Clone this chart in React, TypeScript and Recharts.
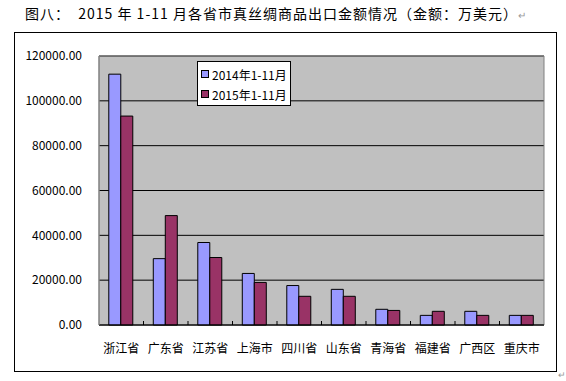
import React from "react"
import { BarChart, Bar, XAxis, YAxis, CartesianGrid, Legend, ReferenceArea } from "recharts"

const provinces = ["浙江省", "广东省", "江苏省", "上海市", "四川省", "山东省", "青海省", "福建省", "广西区", "重庆市"]
const export2014 = [111900, 29600, 36800, 23000, 17600, 15900, 7000, 4300, 6100, 4300]
const export2015 = [93200, 48800, 30100, 19000, 12800, 12800, 6500, 6100, 4300, 4300]
const yTicks = [0, 20000, 40000, 60000, 80000, 100000, 120000]

const data = provinces.map((name, i) => ({ name, y2014: export2014[i], y2015: export2015[i] }))

const cjk = '"Noto Sans CJK SC", "Noto Sans", sans-serif'
const labelGap = 19

// category label plus the small Excel-style tick at the left edge of the band
function ProvinceTick(props: any) {
  const { x, y, payload, index } = props
  const half = payload && payload.offset ? payload.offset : 0
  const axisY = y - labelGap
  return (
    <g>
      {index > 0 && <line x1={x - half} x2={x - half} y1={axisY - 4} y2={axisY} stroke="#000" />}
      <text x={x} y={y} dy="0.71em" textAnchor="middle" fill="#000" fontSize={12} fontFamily={cjk}>
        {payload.value}
      </text>
    </g>
  )
}

function LegendBox(props: any) {
  const items = props.payload || []
  return (
    <div style={{ border: "1px solid #000", background: "#fff", boxSizing: "border-box", width: 94, height: 45, padding: "2px 0 0 3px" }}>
      {items.map((it: any) => (
        <div key={it.value} style={{ display: "flex", alignItems: "center", height: 20, fontFamily: cjk, fontSize: 12, color: "#000", whiteSpace: "nowrap" }}>
          <span style={{ width: 6, height: 6, border: "1px solid #000", background: it.color, marginRight: 3, flex: "none" }} />
          {it.value}
        </div>
      ))}
    </div>
  )
}

export default function App() {
  return (
    <div style={{ position: "absolute", left: 0, top: 0, width: 566, height: 381, background: "#fff" }}>
      <div style={{ position: "absolute", left: 25, top: 3, lineHeight: "20px", fontFamily: cjk, fontSize: 14, letterSpacing: 1, color: "#000", whiteSpace: "nowrap" }}>
        图八：&nbsp;&nbsp;2015 年 1-11 月各省市真丝绸商品出口金额情况（金额：万美元）<span style={{ color: "#999", fontSize: 10 }}>↵</span>
      </div>
      <div style={{ position: "absolute", left: 14, top: 32, width: 543, height: 340, border: "1px solid #000", boxSizing: "border-box" }} />
      <div style={{ position: "absolute", left: 0, top: 0 }}>
        <BarChart width={566} height={381} data={data} margin={{ top: 56, right: 22, left: 14, bottom: 16 }} barGap={0} barCategoryGap="22%">
          <CartesianGrid vertical={false} stroke="#000" fill="#C0C0C0" />
          <XAxis dataKey="name" height={40} tickSize={0} tickMargin={labelGap} axisLine={{ stroke: "#000" }} tick={<ProvinceTick />} interval={0} />
          <YAxis width={85} domain={[0, 120000]} ticks={yTicks} tickFormatter={(v: number) => v.toFixed(2)} tickSize={0} tickMargin={17} axisLine={{ stroke: "#808080" }} tick={{ fill: "#000", fontSize: 12, fontFamily: cjk }} />
          <Bar dataKey="y2014" name="2014年1-11月" fill="#9999FF" stroke="#000" strokeWidth={1} isAnimationActive={false} />
          <Bar dataKey="y2015" name="2015年1-11月" fill="#993366" stroke="#000" strokeWidth={1} isAnimationActive={false} />
          <ReferenceArea y1={0} y2={120000} fill="none" stroke="#808080" ifOverflow="visible" />
          <Legend layout="vertical" align="center" verticalAlign="middle" content={LegendBox} wrapperStyle={{ left: 197, top: 61, width: 94, height: 45 }} />
        </BarChart>
      </div>
      <div style={{ position: "absolute", left: 558, top: 370, fontSize: 9, color: "#999" }}>↵</div>
    </div>
  )
}
